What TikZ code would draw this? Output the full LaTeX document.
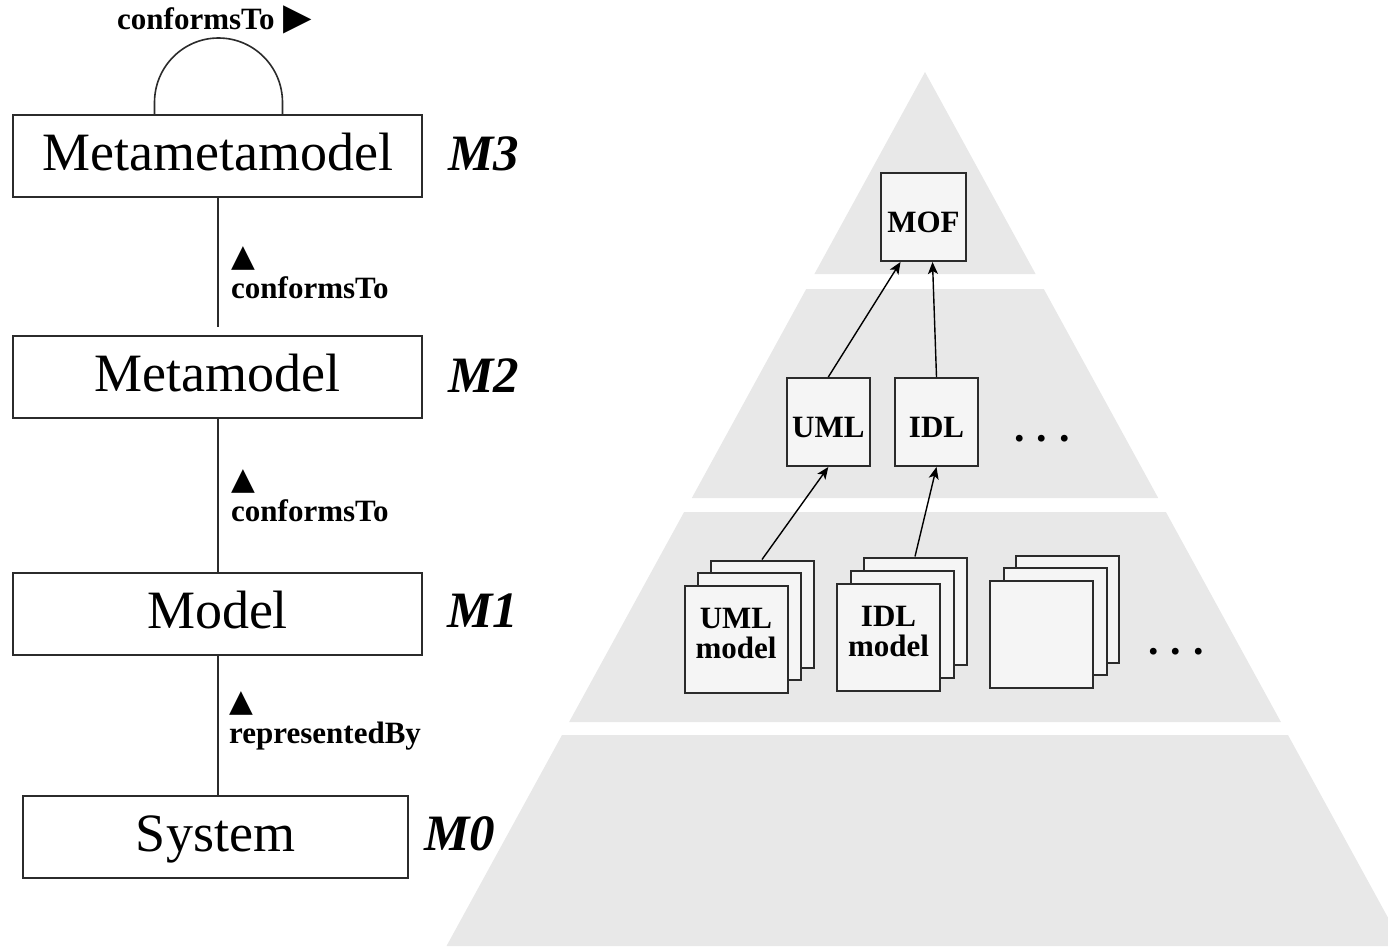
\documentclass[tikz,border=0pt]{standalone}
\usepackage{fontspec}
\setmainfont{Liberation Serif}
\newfontfamily\sym{DejaVu Sans}
\usetikzlibrary{arrows.meta}
\definecolor{band}{HTML}{E8E8E8}
\definecolor{boxfill}{HTML}{F5F5F5}
\definecolor{edge}{HTML}{2B2B2B}
\begin{document}
\begin{tikzpicture}[x=1pt,y=-1pt,
 level/.style={draw=edge, line width=2pt, fill=white, inner sep=0pt, minimum width=409pt, minimum height=82pt, font=\fontsize{54}{60}\selectfont, text height=39pt, text depth=10pt},
 mlabel/.style={font=\fontsize{51}{51}\selectfont\bfseries\itshape, inner sep=0pt, anchor=base},
 rel/.style={font=\fontsize{31}{28}\selectfont\bfseries, inner sep=0pt, align=left, anchor=north west},
 conn/.style={draw=edge, line width=2pt},
 pbox/.style={draw=edge, line width=2pt, fill=boxfill, inner sep=0pt, font=\fontsize{31}{30}\selectfont\bfseries},
 single/.style={pbox, text height=30pt, text depth=0pt, minimum height=88pt},
 stackbox/.style={pbox, minimum width=103pt, minimum height=107pt, align=center},
 dots/.style={font=\fontsize{42}{42}\selectfont\bfseries, inner sep=0pt, anchor=base},
 arr/.style={draw=black, line width=1.4pt, -{Stealth[length=12pt,width=10pt,inset=3pt]}},
]
\useasboundingbox (0,0) rectangle (1388,946);
% pyramid bands
\fill[band] (925,72) -- (1035.6,274) -- (814.4,274) -- cycle;
\fill[band] (806.2,289) -- (1043.8,289) -- (1158.2,498) -- (691.8,498) -- cycle;
\fill[band] (684.1,512) -- (1165.9,512) -- (1280.9,722) -- (569.1,722) -- cycle;
\fill[band] (562,735) -- (1288,735) -- (1403.5,946) -- (446.5,946) -- cycle;

% left stack
\node[level] (mmm) at (217.5,156) {Metametamodel};
\node[level] (mm) at (217.5,376.5) {Metamodel};
\node[level] (m) at (217.5,613.5) {Model};
\node[level, minimum width=385pt] (sys) at (215.5,837) {System};

\draw[conn, shorten >=8pt] (mmm.south) -- (mm.north);
\draw[conn] (mm.south) -- (m.north);
\draw[conn] (m.south) -- (m.south |- sys.north);
\draw[conn, line width=1.6pt] ([xshift=-63pt]mmm.north) -- ++(0,-11.5)
  .. controls +(0,-35.6) and +(-35.4,0) .. ++(64,-64.5)
  .. controls +(35.4,0) and +(0,-35.6) .. ++(64,64.5) -- ++(0,11.5);

\node[font=\fontsize{31}{31}\selectfont\bfseries, inner sep=0pt, anchor=base west] (lt) at (117,29) {conformsTo\hspace{9pt}{\sym\fontsize{37}{37}\selectfont ▶}};
\node[rel] (l1) at (231,246) {{\sym ▲}\\[4pt]conformsTo};
\node[rel] (l2) at (231,469) {{\sym ▲}\\[4pt]conformsTo};
\node[rel] (l3) at (229,691) {{\sym ▲}\\[4pt]representedBy};

\node[mlabel] (n3) at (484,170) {M3};
\node[mlabel] (n2) at (484,392) {M2};
\node[mlabel] (n1) at (483,627) {M1};
\node[mlabel] (n0) at (460,850) {M0};

% pyramid boxes
\node[single, minimum width=85pt] (mof) at (923.5,217) {MOF};
\node[single, minimum width=83pt] (uml) at (828.3,422) {UML};
\node[single, minimum width=83pt] (idl) at (936.5,422) {IDL};

\node[stackbox] (umlA) at (762,614) {};
\node[stackbox] (umlB) at (749,626) {};
\node[stackbox, text depth=12pt] (umlC) at (736,639) {UML\\model};

\node[stackbox] (idlA) at (915,611) {};
\node[stackbox] (idlB) at (902,624.5) {};
\node[stackbox, text depth=12pt] (idlC) at (888.5,637) {IDL\\model};

\node[stackbox] (oA) at (1067.5,609) {};
\node[stackbox] (oB) at (1055,621) {};
\node[stackbox] (oC) at (1041.5,634) {};

\draw[arr] (umlA.north) -- (uml.south);
\draw[arr] (uml.north) -- ([xshift=-23pt]mof.south);
\draw[arr] (idlA.north) -- (idl.south);
\draw[arr] (idl.north) -- ([xshift=9pt]mof.south);

\node[dots] (d1) at (1042,441) {.\hspace{12pt}.\hspace{12pt}.};
\node[dots] (d2) at (1176,654) {.\hspace{12pt}.\hspace{12pt}.};
\end{tikzpicture}
\end{document}
